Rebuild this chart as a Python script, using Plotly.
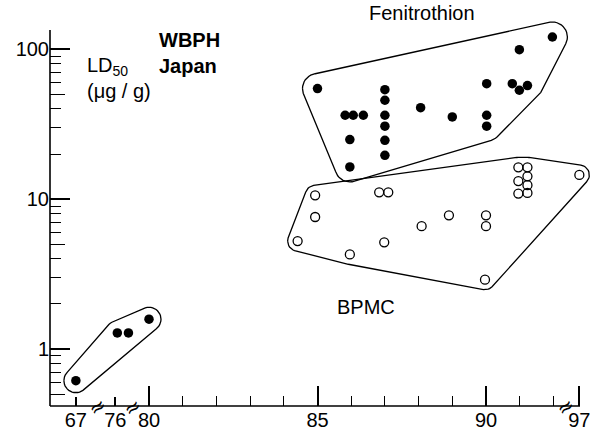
import numpy as np
import plotly.graph_objects as go

# ---------------- data (x in broken-axis units: 77.83 -> '67, 79.0 -> '76, 92.77 -> '97) ----
xtick_pos = [77.83, 79.0, 80, 85, 90, 92.77]
xtick_text = ["67", "76", "80", "85", "90", "97"]
xtick_long = [80, 85, 90, 92.77]
xtick_minor = [81, 82, 83, 84, 86, 87, 88, 89, 91, 92]
break_pos = [78.457, 79.52, 92.345]

ytick_vals = [1, 10, 100]
ytick_text = ["1", "10", "100"]
ytick_mid = [0.5, 5, 50]
ytick_minor = [0.6, 0.7, 0.8, 0.9, 2, 3, 4, 6, 7, 8, 9, 20, 30, 40, 60, 70, 80, 90]

early_x = [77.83, 79.06, 79.39, 80.0]
early_y = [0.615, 1.28, 1.28, 1.58]

fen_x = [85.0, 85.82, 86.06, 86.36, 85.96, 85.96, 87.0, 87.0, 87.0, 87.0, 87.0, 87.0,
         88.06, 89.0, 90.02, 90.02, 90.02, 90.78, 90.99, 91.23, 90.99, 91.97]
fen_y = [54.7, 36.3, 36.3, 36.3, 25.0, 16.4, 53.8, 45.7, 36.3, 30.7, 24.7, 19.6,
         40.8, 35.4, 59.0, 36.3, 30.7, 59.0, 53.3, 57.3, 99.5, 120.8]

bpmc_x = [90.96, 91.23, 91.23, 90.96, 91.23, 90.96, 91.23, 92.77, 84.93, 84.93, 84.41,
          86.83, 87.1, 85.96, 86.98, 88.09, 88.9, 90.0, 90.0, 89.97]
bpmc_y = [16.3, 16.3, 14.2, 13.2, 12.4, 10.9, 11.0, 14.5, 10.6, 7.6, 5.25,
          11.1, 11.1, 4.28, 5.15, 6.6, 7.8, 7.8, 6.6, 2.9]

# ---------------- layout geometry ----------------
W, H = 590, 441
ML, MR, MT, MB = 50, 0, 0, 35
plot_w = W - ML - MR
plot_h = H - MT - MB
kx = 33.7           # px per year unit
ky = 149.85         # px per decade
x_at_left = 80 + (ML - 149) / kx
xr = [x_at_left, x_at_left + plot_w / kx]
y_at_bottom = (349 - (H - MB)) / ky
yr = [y_at_bottom, y_at_bottom + plot_h / ky]
AXIS_TOP_PX = 30
AXIS_RIGHT_PX = 580
FONT = "Liberation Sans, Arial, Helvetica, sans-serif"


def outline(xs, ys, pad, n=40):
    """Padded convex hull (in pixel space) around a group of points."""
    X = np.asarray(xs, float) * kx
    Y = np.log10(np.asarray(ys, float)) * ky
    ang = np.linspace(0, 2 * np.pi, n, endpoint=False)
    px = (X[:, None] + pad * np.cos(ang)).ravel()
    py = (Y[:, None] + pad * np.sin(ang)).ravel()
    pts = sorted(set(zip(np.round(px, 5), np.round(py, 5))))

    def cross(o, a, b):
        return (a[0] - o[0]) * (b[1] - o[1]) - (a[1] - o[1]) * (b[0] - o[0])

    lower, upper = [], []
    for p in pts:
        while len(lower) >= 2 and cross(lower[-2], lower[-1], p) <= 0:
            lower.pop()
        lower.append(p)
    for p in reversed(pts):
        while len(upper) >= 2 and cross(upper[-2], upper[-1], p) <= 0:
            upper.pop()
        upper.append(p)
    hull = lower[:-1] + upper[:-1]
    hull.append(hull[0])
    return [p[0] / kx for p in hull], [10 ** (p[1] / ky) for p in hull]


fig = go.Figure()
for gx, gy, pad in [(early_x, early_y, 12), (fen_x, fen_y, 15), (bpmc_x, bpmc_y, 10)]:
    hx, hy = outline(gx, gy, pad)
    fig.add_trace(go.Scatter(x=hx, y=hy, mode="lines", line=dict(color="black", width=1.3),
                             hoverinfo="skip", showlegend=False))

fig.add_trace(go.Scatter(x=early_x + fen_x, y=early_y + fen_y, mode="markers",
                         marker=dict(symbol="circle", size=9.5, color="black"),
                         name="Fenitrothion", showlegend=False))
fig.add_trace(go.Scatter(x=bpmc_x, y=bpmc_y, mode="markers",
                         marker=dict(symbol="circle-open", size=9, color="black",
                                     line=dict(width=1.3, color="black")),
                         name="BPMC", showlegend=False))
# helper trace so the overlay axes (longer ticks) are drawn
fig.add_trace(go.Scatter(x=[None], y=[None], xaxis="x2", yaxis="y2", showlegend=False,
                         hoverinfo="skip"))


def px2paper(x, y):
    return (x - ML) / plot_w, (H - MB - y) / plot_h


annots = []
for txt, (x, y), anchor in [
    ("<b>WBPH</b>", (189, 40), "center"),
    ("<b>Japan</b>", (188, 65.5), "center"),
    ("LD<sub>50</sub>", (85, 66.5), "left"),
    ("(μg / g)", (85, 91), "left"),
    ("Fenitrothion", (422, 13), "center"),
    ("BPMC", (365.5, 306.5), "center"),
]:
    xp, yp = px2paper(x, y)
    annots.append(dict(text=txt, x=xp, y=yp, xref="paper", yref="paper", xanchor=anchor,
                       yanchor="middle", showarrow=False,
                       font=dict(family=FONT, size=20, color="black")))
for bp in break_pos:
    annots.append(dict(text="≈", x=bp, y=0, xref="x", yref="paper", xanchor="center",
                       yanchor="middle", yshift=-1, showarrow=False, textangle=-35,
                       font=dict(family="DejaVu Sans", size=20, color="black")))

# axis lines (drawn as shapes so the plotting area can extend beyond them)
shapes = [
    dict(type="line", xref="paper", yref="paper", x0=0, x1=0, y0=0,
         y1=px2paper(ML, AXIS_TOP_PX)[1], line=dict(color="black", width=1.6)),
    dict(type="line", xref="paper", yref="paper", x0=0,
         x1=px2paper(AXIS_RIGHT_PX, 0)[0], y0=0, y1=0, line=dict(color="black", width=1.6)),
]

axis_common = dict(showgrid=False, zeroline=False, color="black", showline=False)
fig.update_layout(
    width=W, height=H,
    margin=dict(l=ML, r=MR, t=MT, b=MB, pad=0),
    paper_bgcolor="white", plot_bgcolor="white",
    font=dict(family=FONT, size=20, color="black"),
    annotations=annots,
    shapes=shapes,
    xaxis=dict(range=xr,
               tickmode="array", tickvals=xtick_pos, ticktext=xtick_text,
               ticks="inside", ticklen=9, tickwidth=1.5, tickcolor="black",
               ticklabeloverflow="allow",
               tickfont=dict(family=FONT, size=20, color="black"),
               minor=dict(tickmode="array", tickvals=xtick_minor, ticks="inside",
                          ticklen=10, tickwidth=1.3, tickcolor="black", showgrid=False),
               **axis_common),
    xaxis2=dict(range=xr, overlaying="x", anchor="y", side="bottom",
                tickmode="array", tickvals=xtick_long, ticks="inside", ticklen=20,
                tickwidth=1.5, tickcolor="black", showticklabels=False, **axis_common),
    yaxis=dict(type="log", range=yr,
               tickmode="array", tickvals=ytick_vals, ticktext=ytick_text,
               ticks="inside", ticklen=20, tickwidth=1.5, tickcolor="black",
               tickfont=dict(family=FONT, size=20, color="black"),
               minor=dict(tickmode="array", tickvals=ytick_minor, ticks="inside",
                          ticklen=11, tickwidth=1.3, tickcolor="black", showgrid=False),
               **axis_common),
    yaxis2=dict(type="log", range=yr, overlaying="y", anchor="x", side="left",
                tickmode="array", tickvals=ytick_mid, ticks="inside",
                ticklen=15, tickwidth=1.3, tickcolor="black", showticklabels=False,
                **axis_common),
)

fig.write_html("out.html", config={"displayModeBar": False},
               post_script="document.body.style.margin='0';document.body.style.padding='0';")
